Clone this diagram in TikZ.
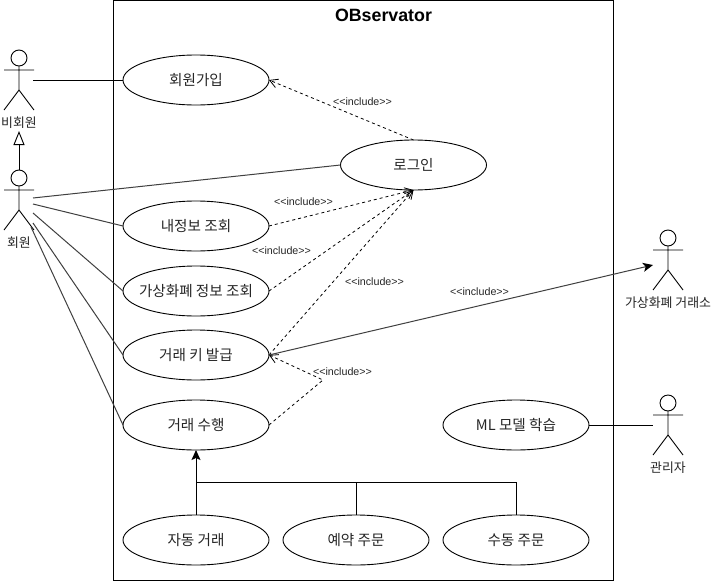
\documentclass[tikz,border=0pt]{standalone}
\usepackage{fontspec}
\setmainfont[Ligatures=NoCommon]{Liberation Sans}
\newfontfamily\krfont{Noto Sans CJK KR}
\usetikzlibrary{shapes.geometric,arrows.meta}
\tikzset{
  usecase/.style={draw=black,fill=white,ellipse,line width=0.9pt,minimum width=146pt,minimum height=50pt,inner sep=0pt,outer sep=0pt,text=black!85,font=\krfont\fontsize{14.6}{16}\selectfont},
  assoc/.style={draw=black!75,line width=1pt},
  plainassoc/.style={draw=black,line width=1pt},
  incl/.style={draw=black,line width=0.8pt,dash pattern=on 3pt off 3pt,-{Straight Barb[length=8pt,width=9pt,line width=0.8pt]}},
  incllabel/.style={inner sep=0pt,font=\fontsize{10.7}{12}\selectfont,text=black!85},
  actorlabel/.style={inner sep=0pt,font=\krfont\fontsize{12.9}{14}\selectfont,text=black!85},
  actorline/.style={draw=black,line width=0.9pt},
  filledtip/.style={-{Stealth[black,length=10pt,width=9pt,inset=2.5pt]}},
}
\newcommand{\stickactor}[4]{%
  \node[circle,draw=black,line width=0.9pt,minimum size=16pt,inner sep=0pt,outer sep=0pt] (#1) at (#2,#3-12) {};
  \coordinate (#1arm) at (#2,#3);
  \coordinate (#1L) at (#2-15,#3);
  \coordinate (#1R) at (#2+15,#3);
  \coordinate (#1hip) at (#2,#3+20);
  \coordinate (#1fl) at (#2-15,#3+40);
  \coordinate (#1fr) at (#2+15,#3+40);
  \draw[actorline] (#1.south) -- (#1hip) -- (#1fl) (#1hip) -- (#1fr) (#1L) -- (#1R);
  \node[actorlabel] (#1text) at (#2,#3+53) {#4};
}
\newcommand{\incltext}{{<}{<}include{>}{>}}
\begin{document}
\begin{tikzpicture}[x=1pt,y=-1pt]
\useasboundingbox (0,0) rectangle (712,581);
\fill[white] (0,0) rectangle (712,581);
\node[draw=black,line width=1pt,minimum width=500pt,minimum height=580pt,inner sep=0pt,outer sep=0pt] (frame) at (363,290) {};
\node[inner sep=0pt,font=\bfseries\fontsize{17.8}{19}\selectfont] (title) at (383.5,15) {OBservator};

\node[usecase] (join) at (196,80) {회원가입};
\node[usecase] (login) at (413.5,165) {로그인};
\node[usecase] (myinfo) at (196,226) {내정보 조회};
\node[usecase] (coin) at (196,291) {\makebox[0pt][c]{가상화폐 정보 조회}};
\node[usecase] (key) at (196,355) {거래 키 발급};
\node[usecase] (trade) at (196,425) {거래 수행};
\node[usecase] (ml) at (516,425) {ML 모델 학습};
\node[usecase] (auto) at (196,540) {자동 거래};
\node[usecase] (resv) at (356,540) {예약 주문};
\node[usecase] (manual) at (516,540) {수동 주문};

\stickactor{guest}{19}{70}{비회원}
\stickactor{member}{19}{190}{회원}
\stickactor{exch}{668}{250}{가상화폐 거래소}
\stickactor{admin}{668}{415}{관리자}

\coordinate (g1) at (33,80);
\coordinate (m1) at (33,198);
\coordinate (m2) at (33,204);
\coordinate (m3) at (33,213);
\coordinate (m4) at (33,223);
\coordinate (m5) at (31,227);
\coordinate (exchin) at (653,265);
\coordinate (adminin) at (653,425);
\coordinate (bend) at (323,380);
\coordinate (bus) at (196,482);
\coordinate (busm) at (356,482);
\coordinate (busr) at (516,482);

\draw[plainassoc] (g1) -- (join.west);
\draw[assoc] (m1) -- (login.west);
\draw[assoc] (m2) -- (myinfo.west);
\draw[assoc] (m3) -- (coin.west);
\draw[assoc] (m4) -- (key.west);
\draw[assoc] (m5) -- (trade.west);
\draw[plainassoc] (ml.east) -- (adminin);

\draw[draw=black,line width=0.9pt,-{Triangle[open,fill=white,length=14pt,width=11pt]}] (member.north) -- (19,131);

\draw[incl] (login.north) -- (join.east);
\draw[incl] (myinfo.east) -- (login.south);
\draw[incl] (coin.east) -- (login.south);
\draw[incl] (key.east) -- (login.south);
\draw[incl] (trade.east) -- (bend) -- (key.east);

\draw[assoc,filledtip] (key.east) -- (exchin);

\draw[plainassoc] (auto.north) -- (bus);
\draw[plainassoc,-{Stealth[length=10pt,width=9pt,inset=2pt]}] (bus) -- (trade.south);
\draw[plainassoc] (resv.north) -- (busm) -- (bus);
\draw[plainassoc] (manual.north) -- (busr) -- (busm);

\node[incllabel] (l1) at (362.5,101.5) {\incltext};
\node[incllabel] (l2) at (303.5,201.5) {\incltext};
\node[incllabel] (l3) at (281.5,250.5) {\incltext};
\node[incllabel] (l4) at (374.5,281.5) {\incltext};
\node[incllabel] (l5) at (479.5,291.5) {\incltext};
\node[incllabel] (l6) at (342.5,371.5) {\incltext};
\end{tikzpicture}
\end{document}
